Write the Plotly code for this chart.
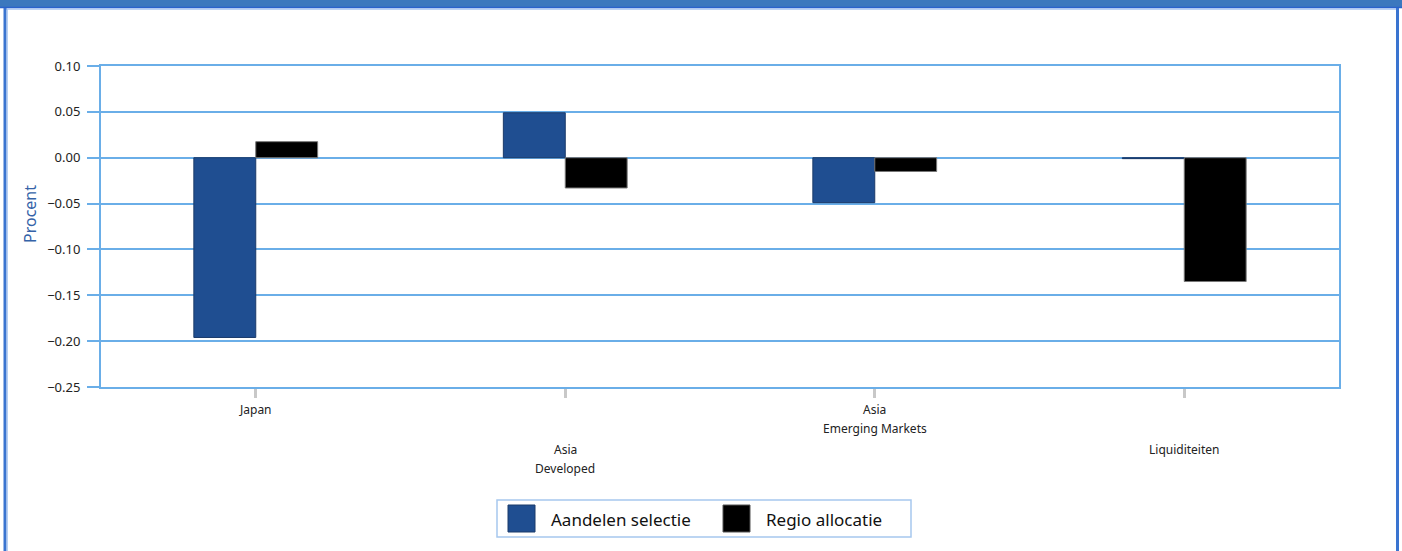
import plotly.graph_objects as go

categories = ["Japan", "Asia Developed", "Asia Emerging Markets", "Liquiditeiten"]
label_lines = [["Japan"], ["Asia", "Developed"], ["Asia", "Emerging Markets"], ["Liquiditeiten"]]
label_row_start = [0, 2, 0, 2]
aandelen = [-0.196, 0.049, -0.049, -0.001]
regio = [0.0175, -0.033, -0.015, -0.135]
y_ticks = [0.10, 0.05, 0.00, -0.05, -0.10, -0.15, -0.20, -0.25]
series_names = ["Aandelen selectie", "Regio allocatie"]
y_title = "Procent"

W, H = 1402, 551
L, R, T, B = 101, 1339, 66, 387


def px(x):
    return (x - L) / (R - L)


def py(y):
    return 1 - (y - T) / (B - T)


BLUE = "#1f4e91"
GRID = "#6aaee8"
FONT = "Noto Sans"

fig = go.Figure()
fig.add_trace(go.Bar(x=categories, y=aandelen, name=series_names[0],
                     marker=dict(color=BLUE, line=dict(color="#1a3a6a", width=1)),
                     showlegend=False))
fig.add_trace(go.Bar(x=categories, y=regio, name=series_names[1],
                     marker=dict(color="#000000", line=dict(color="#777777", width=1)),
                     showlegend=False))

shapes = []
# frame: header bar and side borders
shapes.append(dict(type="rect", xref="paper", yref="paper", x0=px(-5), x1=px(W + 5),
                   y0=py(7), y1=py(-10), fillcolor="#3b78be", line=dict(width=0), layer="above"))
shapes.append(dict(type="line", xref="paper", yref="paper", x0=px(-5), x1=px(W + 5),
                   y0=py(7.5), y1=py(7.5), line=dict(color="#2a62cc", width=1.5)))
shapes.append(dict(type="line", xref="paper", yref="paper", x0=px(6), x1=px(1396),
                   y0=py(9), y1=py(9), line=dict(color="#a5c3f0", width=1.5)))
shapes.append(dict(type="rect", xref="paper", yref="paper", x0=px(3.5), x1=px(6.5),
                   y0=py(W), y1=py(8), fillcolor="#3a74d0", line=dict(width=0)))
shapes.append(dict(type="line", xref="paper", yref="paper", x0=px(7.3), x1=px(7.3),
                   y0=py(W), y1=py(9), line=dict(color="#a5c3f0", width=1)))
shapes.append(dict(type="rect", xref="paper", yref="paper", x0=px(1396), x1=px(1399),
                   y0=py(W), y1=py(8), fillcolor="#3a74d0", line=dict(width=0)))
# legend box
shapes.append(dict(type="rect", xref="paper", yref="paper", x0=px(497), x1=px(911),
                   y0=py(537), y1=py(500), line=dict(color="#a7c8ee", width=1.5)))
legend_items = [(508, BLUE, "#1a3a6a", 549), (723, "#000000", "#555555", 764)]
annotations = []
for (sx, fc, lc, tx), name in zip(legend_items, series_names):
    shapes.append(dict(type="rect", xref="paper", yref="paper", x0=px(sx), x1=px(sx + 27),
                       y0=py(532), y1=py(505), fillcolor=fc, line=dict(color=lc, width=1)))
    annotations.append(dict(xref="paper", yref="paper", x=px(tx), y=py(519), text=name,
                            showarrow=False, xanchor="left", yanchor="middle",
                            font=dict(family=FONT, size=17, color="#111111")))

# category labels (staggered rows)
row_y = [409, 428.5, 449, 468]
for cat, lines, start in zip(categories, label_lines, label_row_start):
    for i, line in enumerate(lines):
        annotations.append(dict(x=cat, xref="x", yref="paper", y=py(row_y[start + i]),
                                text=line, showarrow=False, xanchor="center", yanchor="middle",
                                font=dict(family=FONT, size=12, color="#222222")))

# y axis title
annotations.append(dict(xref="paper", yref="paper", x=px(30), y=py(214), text=y_title,
                        textangle=-90, showarrow=False, xanchor="center", yanchor="middle",
                        font=dict(family=FONT, size=16, color="#3563a8")))

fig.update_layout(
    width=W, height=H,
    margin=dict(l=L, r=W - R, t=T, b=H - B, autoexpand=False),
    paper_bgcolor="white", plot_bgcolor="white",
    barmode="group", bargap=0.6, bargroupgap=0,
    showlegend=False,
    shapes=shapes, annotations=annotations,
    font=dict(family=FONT, size=12, color="#222222"),
)
fig.update_xaxes(showticklabels=False, ticks="outside", ticklen=9, tickwidth=3,
                 tickcolor="#c8c8c8", showline=True, mirror=True, linecolor=GRID,
                 linewidth=2, showgrid=False)
fig.update_yaxes(range=[-0.25, 0.10], tickvals=y_ticks, tickformat=".2f",
                 ticks="outside", ticklen=12, tickwidth=2, tickcolor=GRID,
                 ticklabelstandoff=4,
                 showline=True, mirror=True, linecolor=GRID, linewidth=2,
                 showgrid=True, gridcolor=GRID, gridwidth=2,
                 zeroline=True, zerolinecolor=GRID, zerolinewidth=2,
                 tickfont=dict(family=FONT, size=13, color="#222222"))

fig.write_html("out.html", config={"displayModeBar": False},
               post_script="document.body.style.margin='0';document.body.style.overflow='hidden';")
